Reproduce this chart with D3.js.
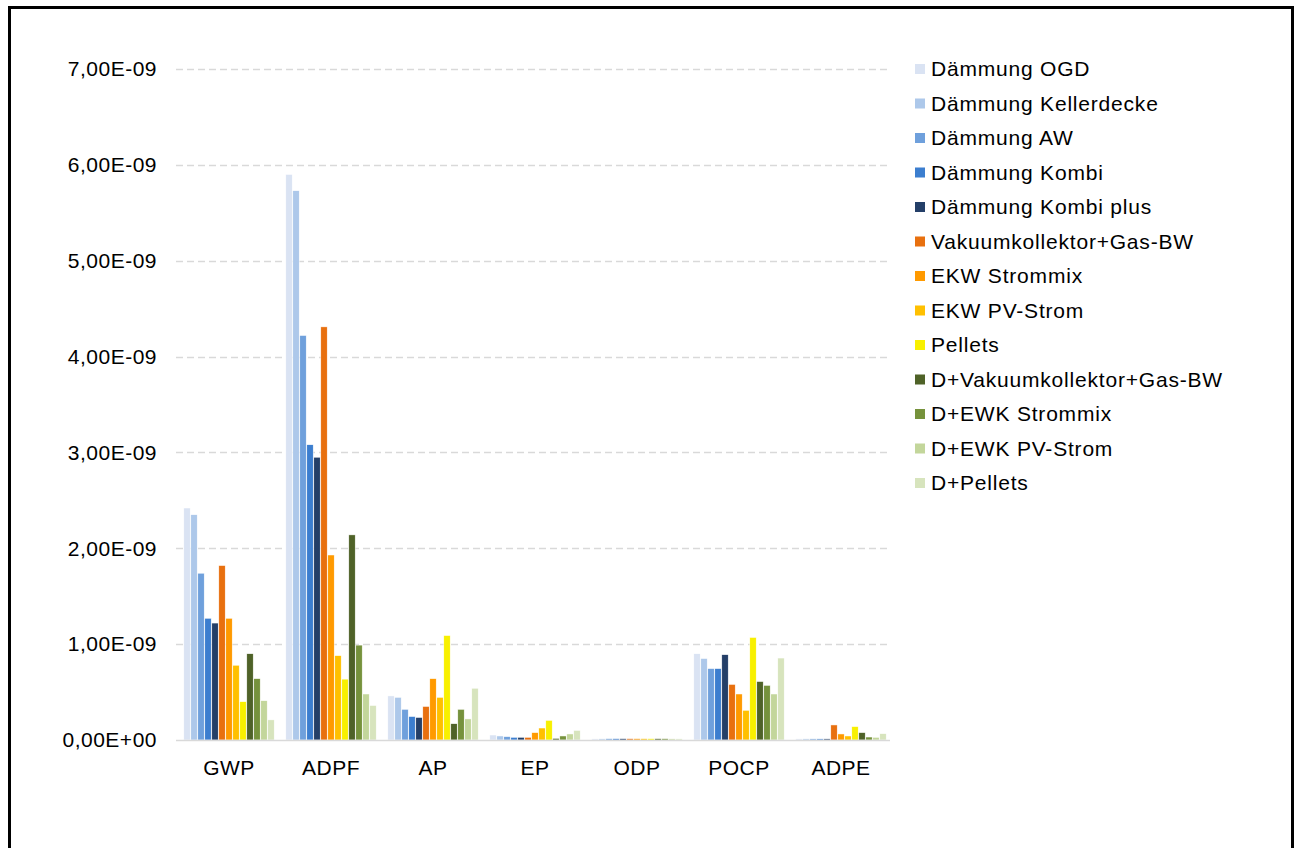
<!DOCTYPE html>
<html>
<head>
<meta charset="utf-8">
<script src="https://cdn.jsdelivr.net/npm/d3@7"></script>
<style>
  html, body { margin: 0; padding: 0; background: #fff; }
  svg { display: block; }
  text { font-family: "Liberation Sans", Arial, sans-serif; fill: #000; }
</style>
</head>
<body>
<svg id="chart" width="1297" height="848"></svg>
<script>
// Impact categories on the x axis
const categories = ["GWP", "ADPF", "AP", "EP", "ODP", "POCP", "ADPE"];

// Variants (legend order)
const seriesNames = [
  "Dämmung OGD", "Dämmung Kellerdecke", "Dämmung AW", "Dämmung Kombi",
  "Dämmung Kombi plus", "Vakuumkollektor+Gas-BW", "EKW Strommix",
  "EKW PV-Strom", "Pellets", "D+Vakuumkollektor+Gas-BW", "D+EWK Strommix",
  "D+EWK PV-Strom", "D+Pellets"
];

const seriesColors = [
  "#dae3f3", "#adc8ea", "#6fa0dc", "#3c7ecf", "#243f68", "#e8700f",
  "#ff9a00", "#ffc000", "#f8f000", "#4f6228", "#76923c", "#c3d69b", "#d7e4bd"
];

// Values per variant, one entry per category (GWP, ADPF, AP, EP, ODP, POCP, ADPE)
const dOGD        = [2.42e-9, 5.90e-9, 0.46e-9, 0.052e-9, 0.012e-9, 0.90e-9, 0.012e-9];
const dKeller     = [2.35e-9, 5.73e-9, 0.445e-9, 0.042e-9, 0.012e-9, 0.85e-9, 0.012e-9];
const dAW         = [1.74e-9, 4.22e-9, 0.32e-9, 0.035e-9, 0.014e-9, 0.745e-9, 0.012e-9];
const dKombi      = [1.27e-9, 3.08e-9, 0.245e-9, 0.028e-9, 0.014e-9, 0.745e-9, 0.012e-9];
const dKombiPlus  = [1.22e-9, 2.95e-9, 0.235e-9, 0.028e-9, 0.014e-9, 0.89e-9, 0.012e-9];
const vakuum      = [1.82e-9, 4.31e-9, 0.35e-9, 0.028e-9, 0.014e-9, 0.58e-9, 0.157e-9];
const ekwMix      = [1.27e-9, 1.93e-9, 0.64e-9, 0.077e-9, 0.014e-9, 0.48e-9, 0.063e-9];
const ekwPV       = [0.78e-9, 0.88e-9, 0.445e-9, 0.125e-9, 0.014e-9, 0.31e-9, 0.042e-9];
const pellets     = [0.40e-9, 0.635e-9, 1.09e-9, 0.205e-9, 0.014e-9, 1.07e-9, 0.14e-9];
const dVakuum     = [0.90e-9, 2.14e-9, 0.17e-9, 0.017e-9, 0.014e-9, 0.61e-9, 0.077e-9];
const dEwkMix     = [0.64e-9, 0.99e-9, 0.32e-9, 0.042e-9, 0.014e-9, 0.57e-9, 0.031e-9];
const dEwkPV      = [0.41e-9, 0.48e-9, 0.22e-9, 0.063e-9, 0.012e-9, 0.48e-9, 0.028e-9];
const dPellets    = [0.21e-9, 0.36e-9, 0.54e-9, 0.10e-9, 0.012e-9, 0.855e-9, 0.066e-9];

const seriesValues = [dOGD, dKeller, dAW, dKombi, dKombiPlus, vakuum, ekwMix,
                      ekwPV, pellets, dVakuum, dEwkMix, dEwkPV, dPellets];

// Y axis ticks
const yTicks = [0, 1e-9, 2e-9, 3e-9, 4e-9, 5e-9, 6e-9, 7e-9];
const yTickLabels = ["0,00E+00", "1,00E-09", "2,00E-09", "3,00E-09",
                     "4,00E-09", "5,00E-09", "6,00E-09", "7,00E-09"];

const svg = d3.select("#chart");

// outer frame
svg.append("rect")
  .attr("x", 9.5).attr("y", 7.5)
  .attr("width", 1283).attr("height", 900)
  .attr("fill", "none").attr("stroke", "#000").attr("stroke-width", 3);

const plot = { left: 176, right: 890, top: 69, bottom: 740 };

const y = d3.scaleLinear().domain([0, 7e-9]).range([plot.bottom, plot.top]);

const x0 = d3.scaleBand()
  .domain(categories)
  .range([178, 892])
  .paddingInner(0.108)
  .paddingOuter(0.054);

const x1 = d3.scaleBand()
  .domain(d3.range(seriesNames.length))
  .range([0, x0.bandwidth()])
  .padding(0);

// gridlines
svg.append("g").selectAll("line")
  .data(yTicks.slice(1))
  .join("line")
  .attr("x1", plot.left).attr("x2", plot.right)
  .attr("y1", d => Math.round(y(d)) + 0.5).attr("y2", d => Math.round(y(d)) + 0.5)
  .attr("stroke", "#d9d9d9").attr("stroke-width", 1.5)
  .attr("stroke-dasharray", "7,4");

// y tick labels
const yAxis = d3.axisLeft(y)
  .tickValues(yTicks)
  .tickFormat((d, i) => yTickLabels[i])
  .tickSize(0).tickPadding(0);
const gy = svg.append("g").attr("transform", "translate(157,0)").call(yAxis);
gy.select(".domain").remove();
gy.selectAll("text")
  .attr("font-size", 21).attr("letter-spacing", 0.5)
  .attr("font-family", "Liberation Sans, Arial, sans-serif")
  .attr("fill", "#000");

// bars
const groups = svg.append("g").selectAll("g")
  .data(categories)
  .join("g")
  .attr("transform", d => `translate(${x0(d)},0)`);

groups.selectAll("rect")
  .data((c, ci) => seriesValues.map((vals, si) => ({ si, v: vals[ci] })))
  .join("rect")
  .attr("x", d => x1(d.si) + 0.3)
  .attr("width", x1.bandwidth() - 0.6)
  .attr("y", d => y(d.v))
  .attr("height", d => plot.bottom - y(d.v))
  .attr("fill", d => seriesColors[d.si])
  .attr("stroke", "#fff").attr("stroke-width", 0.5);

// baseline / x axis
const xAxis = d3.axisBottom(x0).tickSize(0).tickPadding(0);
const gx = svg.append("g").attr("transform", `translate(0,${plot.bottom})`).call(xAxis);
gx.select(".domain")
  .attr("d", `M${plot.left},0.5H${plot.right}`)
  .attr("stroke", "#d9d9d9").attr("stroke-width", 1.5);
gx.selectAll("text")
  .attr("y", 28).attr("dy", "0.32em")
  .attr("font-size", 21).attr("letter-spacing", 0.5)
  .attr("font-family", "Liberation Sans, Arial, sans-serif")
  .attr("fill", "#000");

// legend
const legend = svg.append("g").selectAll("g")
  .data(seriesNames)
  .join("g")
  .attr("transform", (d, i) => `translate(915,${69 + i * 34.5})`);

legend.append("rect")
  .attr("x", 0).attr("y", -5).attr("width", 10).attr("height", 10)
  .attr("fill", (d, i) => seriesColors[i]);

legend.append("text")
  .attr("x", 16).attr("dy", "0.35em")
  .attr("font-size", 21).attr("letter-spacing", 0.8)
  .text(d => d);
</script>
</body>
</html>
